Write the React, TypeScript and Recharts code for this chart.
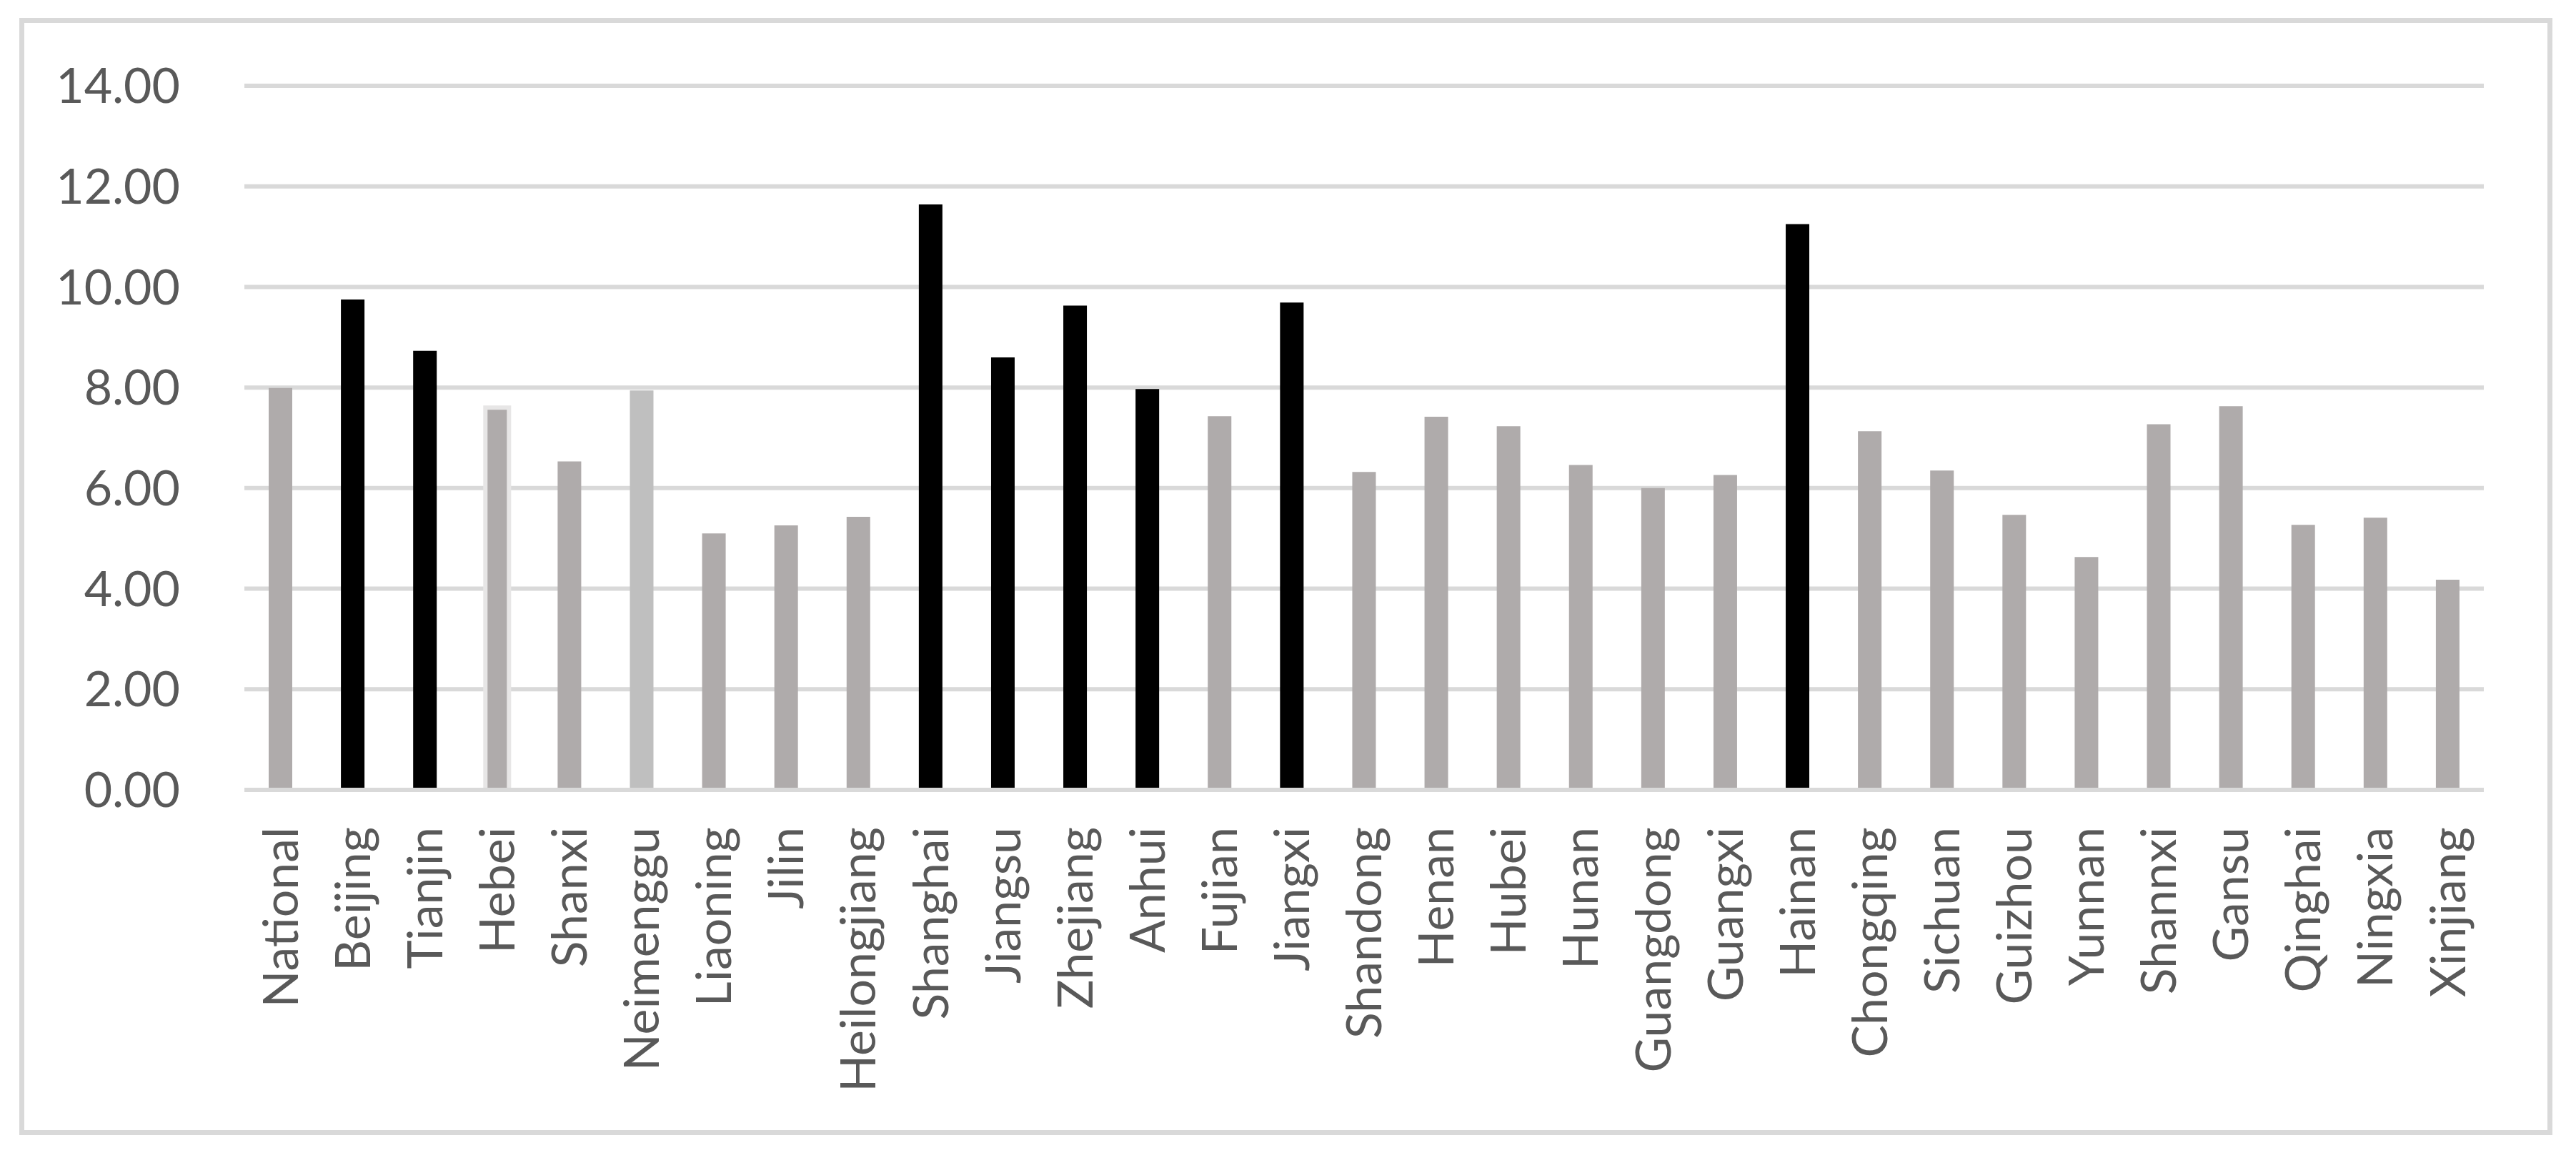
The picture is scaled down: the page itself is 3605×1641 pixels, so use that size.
import React from "react"
import { Bar, BarChart, CartesianGrid, Cell, XAxis, YAxis } from "recharts"

// Region names along the x axis
const regions = [
  "National", "Beijing", "Tianjin", "Hebei", "Shanxi", "Neimenggu", "Liaoning", "Jilin",
  "Heilongjiang", "Shanghai", "Jiangsu", "Zhejiang", "Anhui", "Fujian", "Jiangxi", "Shandong",
  "Henan", "Hubei", "Hunan", "Guangdong", "Guangxi", "Hainan", "Chongqing", "Sichuan",
  "Guizhou", "Yunnan", "Shannxi", "Gansu", "Qinghai", "Ningxia", "Xinjiang",
]

// Bar heights
const values = [
  7.99, 9.75, 8.73, 7.6, 6.53, 7.94, 5.1, 5.26,
  5.43, 11.64, 8.6, 9.63, 7.97, 7.43, 9.69, 6.32,
  7.42, 7.23, 6.46, 6.0, 6.26, 11.25, 7.13, 6.35,
  5.47, 4.63, 7.27, 7.63, 5.27, 5.41, 4.18,
]

// Regions drawn in black
const highlighted = ["Beijing", "Tianjin", "Shanghai", "Jiangsu", "Zhejiang", "Anhui", "Jiangxi", "Hainan"]

const yTicks = [0, 2, 4, 6, 8, 10, 12, 14]

const data = regions.map((name, i) => ({ name, value: values[i] }))

const FONT = "Lato, 'Open Sans', sans-serif"
const TEXT = "#595959"
const GRID = "#D9D9D9"

function fillFor(name: string) {
  if (highlighted.includes(name)) return "#000000"
  if (name === "Neimenggu") return "#BFBFBF"
  return "#AFABAB"
}

function RegionTick({ x, y, payload }: any) {
  return (
    <text
      x={x}
      y={y}
      dy="0.355em"
      transform={`rotate(-90, ${x}, ${y})`}
      textAnchor="end"
      fill={TEXT}
      fontSize={68}
      fontFamily={FONT}
    >
      {payload.value}
    </text>
  )
}

export default function App() {
  return (
    <div style={{ position: "absolute", left: 0, top: 0, width: 3605, height: 1641, background: "#fff" }}>
      <div
        style={{
          position: "absolute",
          left: 27,
          top: 25,
          width: 3545,
          height: 1563,
          border: `7px solid ${GRID}`,
          boxSizing: "border-box",
        }}
      />
      <div style={{ position: "absolute", left: 0, top: 0 }}>
        <BarChart width={3605} height={1641} data={data} margin={{ top: 120, right: 129, bottom: 136, left: 42 }} barSize={33}>
          <CartesianGrid vertical={false} stroke={GRID} strokeWidth={6} />
          <XAxis
            dataKey="name"
            interval={0}
            height={400}
            tickLine={false}
            tickSize={0}
            tickMargin={52}
            axisLine={{ stroke: GRID, strokeWidth: 6 }}
            tick={<RegionTick />}
          />
          <YAxis
            width={300}
            domain={[0, 14]}
            ticks={yTicks}
            interval={0}
            tickLine={false}
            axisLine={false}
            tickSize={0}
            tickMargin={90}
            tickFormatter={(v: number) => v.toFixed(2)}
            tick={{ fill: TEXT, fontSize: 68, fontFamily: FONT }}
          />
          <Bar dataKey="value" isAnimationActive={false}>
            {data.map((d) => (
              <Cell
                key={d.name}
                fill={fillFor(d.name)}
                stroke={d.name === "Hebei" ? "#E7E6E6" : "none"}
                strokeWidth={d.name === "Hebei" ? 6 : 0}
              />
            ))}
          </Bar>
        </BarChart>
      </div>
    </div>
  )
}
